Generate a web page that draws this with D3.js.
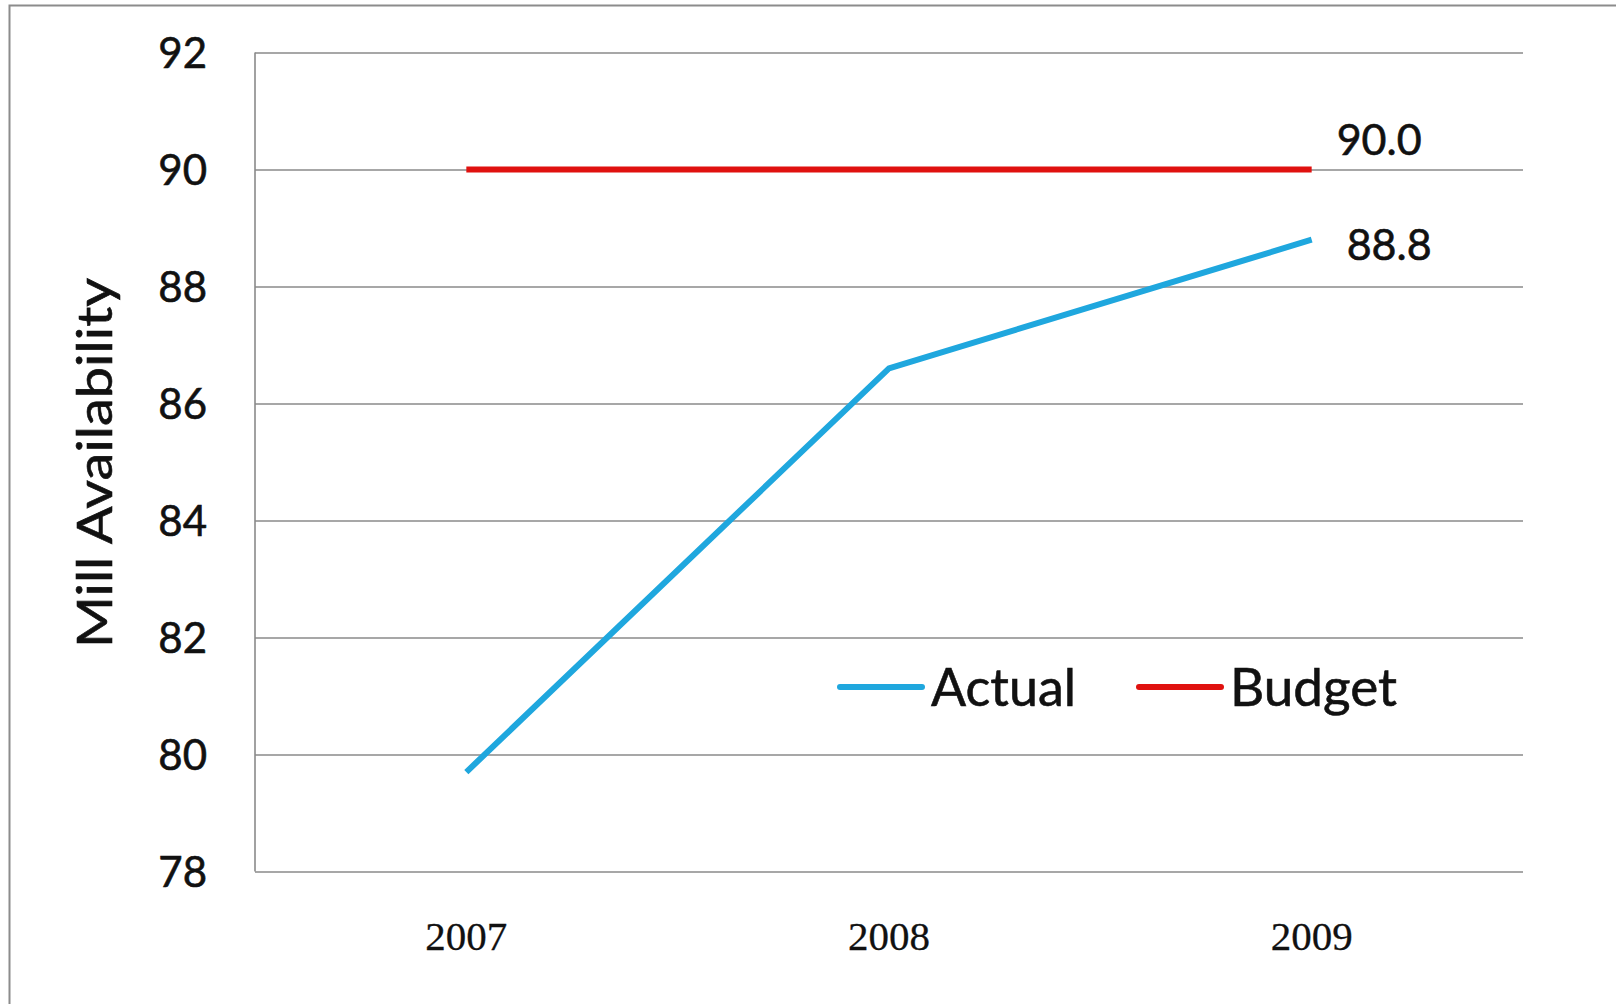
<!DOCTYPE html>
<html>
<head>
<meta charset="utf-8">
<script src="https://cdn.jsdelivr.net/npm/d3@7"></script>
<style>
  html, body { margin: 0; padding: 0; background: #ffffff; }
  svg { display: block; }
  .sans { font-family: Lato, 'Open Sans', sans-serif; fill: #111; stroke: #111; stroke-width: 0.6px; }
</style>
</head>
<body>
<svg id="chart" width="1616" height="1004"></svg>
<script>
// Mill availability, actual vs budget
const years = ["2007", "2008", "2009"];
const actual = [79.7, 86.6, 88.8];
const budget = [90.0, 90.0, 90.0];
const yTicks = [78, 80, 82, 84, 86, 88, 90, 92];
const seriesNames = ["Actual", "Budget"];
const seriesColors = ["#1fa7de", "#e0110f"];

const W = 1616, H = 1004;
const margin = { top: 52.5, right: 93, bottom: 132.5, left: 255 };

const svg = d3.select("#chart");

// frame around the chart area
svg.append("rect")
  .attr("x", 9.5).attr("y", 5.5)
  .attr("width", W + 20).attr("height", H + 20)
  .attr("fill", "#ffffff")
  .attr("stroke", "#8c8c8c")
  .attr("stroke-width", 2);

const x = d3.scaleBand()
  .domain(years)
  .range([margin.left, W - margin.right]);

const y = d3.scaleLinear()
  .domain([78, 92])
  .range([H - margin.bottom, margin.top]);

// horizontal gridlines and value axis
const yAxis = d3.axisLeft(y)
  .tickValues(yTicks)
  .tickSize(-(W - margin.right - margin.left))
  .tickPadding(48)
  .tickFormat(d3.format("d"));

const gy = svg.append("g")
  .attr("transform", `translate(${margin.left},0)`)
  .call(yAxis);
gy.select(".domain").remove();
gy.selectAll(".tick line")
  .attr("stroke", "#8a8a8a")
  .attr("stroke-width", 1.6);
gy.selectAll(".tick text")
  .attr("class", "sans")
  .attr("font-family", null)
  .attr("font-size", 42)
  .attr("dy", "0.36em");

// vertical axis line
svg.append("line")
  .attr("x1", margin.left).attr("x2", margin.left)
  .attr("y1", y(92)).attr("y2", y(78))
  .attr("stroke", "#8a8a8a")
  .attr("stroke-width", 1.6);

// category axis labels
const xAxis = d3.axisBottom(x).tickSize(0).tickPadding(0);
const gx = svg.append("g")
  .attr("transform", `translate(0,${y(78)})`)
  .call(xAxis);
gx.select(".domain").remove();
gx.selectAll(".tick text")
  .attr("font-family", "'Liberation Serif', 'DejaVu Serif', serif")
  .attr("font-size", 41)
  .attr("fill", "#111")
  .attr("stroke", "#111")
  .attr("stroke-width", 0.3)
  .attr("dy", 0)
  .attr("y", 78);

// axis title
svg.append("text")
  .attr("class", "sans")
  .attr("transform", `translate(112,463) rotate(-90)`)
  .attr("text-anchor", "middle")
  .attr("font-size", 48)
  .attr("textLength", 370)
  .attr("lengthAdjust", "spacingAndGlyphs")
  .text("Mill Availability");

const cx = d => x(d) + x.bandwidth() / 2;

const line = d3.line()
  .x((d, i) => cx(years[i]))
  .y(d => y(d));

svg.append("path")
  .datum(budget)
  .attr("d", line)
  .attr("fill", "none")
  .attr("stroke", seriesColors[1])
  .attr("stroke-width", 6);

svg.append("path")
  .datum(actual)
  .attr("d", line)
  .attr("fill", "none")
  .attr("stroke", seriesColors[0])
  .attr("stroke-width", 6)
  .attr("stroke-linejoin", "round");

// value labels at the last point
const last = years.length - 1;
svg.append("text")
  .attr("class", "sans")
  .attr("x", cx(years[last]) + 25)
  .attr("y", y(budget[last]) - 30)
  .attr("dy", "0.36em")
  .attr("font-size", 43)
  .text(d3.format(".1f")(budget[last]));

svg.append("text")
  .attr("class", "sans")
  .attr("x", cx(years[last]) + 35)
  .attr("y", y(actual[last]) + 5)
  .attr("dy", "0.36em")
  .attr("font-size", 43)
  .text(d3.format(".1f")(actual[last]));

// legend
const legend = [
  { name: seriesNames[0], color: seriesColors[0], x: 840, w: 145 },
  { name: seriesNames[1], color: seriesColors[1], x: 1139, w: 167 }
];
const lg = svg.append("g").selectAll("g")
  .data(legend).join("g")
  .attr("transform", d => `translate(${d.x},687)`);
lg.append("line")
  .attr("x1", 0).attr("x2", 82)
  .attr("stroke", d => d.color)
  .attr("stroke-width", 6)
  .attr("stroke-linecap", "round");
lg.append("text")
  .attr("class", "sans")
  .attr("x", 91)
  .attr("dy", "0.36em")
  .attr("font-size", 52)
  .attr("textLength", d => d.w)
  .attr("lengthAdjust", "spacingAndGlyphs")
  .text(d => d.name);
</script>
</body>
</html>
